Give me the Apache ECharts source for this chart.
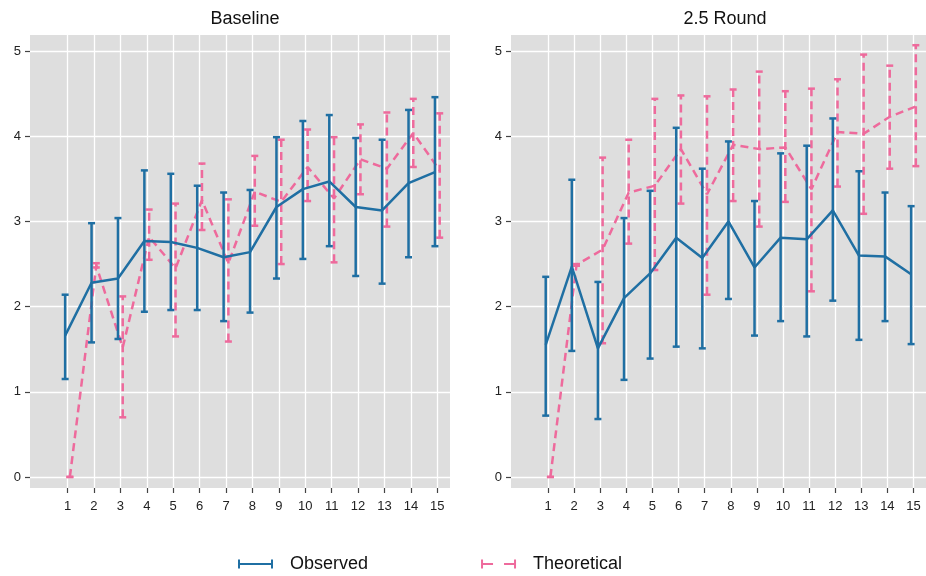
<!DOCTYPE html>
<html>
<head>
<meta charset="utf-8">
<script src="https://cdn.jsdelivr.net/npm/echarts@6/dist/echarts.min.js"></script>
<style>html,body{margin:0;padding:0;background:#fff}#c{width:926px;height:576px}</style>
</head>
<body>
<div id="c"></div>
<script>
// ---- data ----
const categories = [1,2,3,4,5,6,7,8,9,10,11,12,13,14,15];
const yTicks = [0,1,2,3,4,5];
const panelTitles = ['Baseline', '2.5 Round'];
const seriesNames = ['Observed', 'Theoretical'];

const baseObsMean = [1.66,2.28,2.33,2.77,2.76,2.69,2.58,2.64,3.17,3.38,3.47,3.17,3.13,3.45,3.58];
const baseObsLow  = [1.15,1.58,1.62,1.94,1.96,1.96,1.83,1.93,2.33,2.56,2.71,2.36,2.27,2.58,2.71];
const baseObsHigh = [2.14,2.98,3.04,3.60,3.56,3.42,3.34,3.37,3.99,4.18,4.25,3.98,3.96,4.31,4.46];

const baseTheoMean = [0,2.48,1.52,2.82,2.45,3.25,2.51,3.35,3.23,3.64,3.27,3.73,3.62,4.04,3.60];
const baseTheoLow  = [0,2.46,0.70,2.55,1.65,2.90,1.59,2.95,2.50,3.24,2.52,3.32,2.94,3.64,2.81];
const baseTheoHigh = [0,2.51,2.12,3.14,3.21,3.68,3.26,3.77,3.96,4.08,3.99,4.14,4.28,4.44,4.27];

const roundObsMean = [1.55,2.47,1.51,2.10,2.39,2.81,2.57,3.00,2.46,2.81,2.79,3.13,2.60,2.59,2.38];
const roundObsLow  = [0.72,1.48,0.68,1.14,1.39,1.53,1.51,2.09,1.66,1.83,1.65,2.07,1.61,1.83,1.56];
const roundObsHigh = [2.35,3.49,2.29,3.04,3.36,4.10,3.62,3.94,3.24,3.80,3.89,4.21,3.59,3.34,3.18];

const roundTheoMean = [0,2.49,2.67,3.34,3.42,3.85,3.32,3.90,3.85,3.87,3.38,4.05,4.03,4.23,4.35];
const roundTheoLow  = [0,2.48,1.57,2.74,2.43,3.21,2.14,3.24,2.94,3.23,2.18,3.41,3.09,3.62,3.65];
const roundTheoHigh = [0,2.50,3.75,3.96,4.44,4.48,4.47,4.55,4.76,4.53,4.56,4.67,4.96,4.83,5.07];

// ---- styling ----
const BLUE = '#1f6fa3';
const PINK = '#ee6a9c';
const DASH = [8, 5];
const DODGE = 0.09;
const FONT = 'Liberation Sans, Arial, sans-serif';

function errRender(color, dashed) {
  return function (params, api) {
    const x = api.value(0), lo = api.value(1), hi = api.value(2);
    const pLo = api.coord([x, lo]), pHi = api.coord([x, hi]);
    const hw = 3.5;
    const base = { stroke: color, lineWidth: 2.5, fill: null };
    return {
      type: 'group',
      children: [
        { type: 'line', shape: { x1: pLo[0], y1: pLo[1], x2: pHi[0], y2: pHi[1] },
          style: Object.assign({}, base, dashed ? { lineDash: DASH } : {}) },
        { type: 'line', shape: { x1: pHi[0] - hw, y1: pHi[1], x2: pHi[0] + hw, y2: pHi[1] }, style: base },
        { type: 'line', shape: { x1: pLo[0] - hw, y1: pLo[1], x2: pLo[0] + hw, y2: pLo[1] }, style: base }
      ]
    };
  };
}

function panelSeries(idx, obsM, obsL, obsH, theoM, theoL, theoH) {
  return [
    { name: seriesNames[1], type: 'custom', xAxisIndex: idx, yAxisIndex: idx,
      renderItem: errRender(PINK, true), encode: { x: 0, y: [1, 2] },
      data: categories.map((c, i) => [c + DODGE, theoL[i], theoH[i]]), z: 2 },
    { name: seriesNames[1], type: 'line', xAxisIndex: idx, yAxisIndex: idx, symbol: 'none',
      lineStyle: { color: PINK, width: 2.5, type: DASH }, itemStyle: { color: PINK },
      data: categories.map((c, i) => [c + DODGE, theoM[i]]), z: 2 },
    { name: seriesNames[0], type: 'custom', xAxisIndex: idx, yAxisIndex: idx,
      renderItem: errRender(BLUE, false), encode: { x: 0, y: [1, 2] },
      data: categories.map((c, i) => [c - DODGE, obsL[i], obsH[i]]), z: 3 },
    { name: seriesNames[0], type: 'line', xAxisIndex: idx, yAxisIndex: idx, symbol: 'none',
      lineStyle: { color: BLUE, width: 2.5 }, itemStyle: { color: BLUE },
      data: categories.map((c, i) => [c - DODGE, obsM[i]]), z: 3 }
  ];
}

function xAxisDef(idx) {
  return {
    type: 'value', gridIndex: idx, min: -0.42, max: 15.48, position: 'bottom',
    axisLine: { show: false, onZero: false },
    axisTick: { show: true, length: 5, customValues: categories, lineStyle: { color: '#444', width: 1.2 } },
    axisLabel: { customValues: categories, margin: 12, color: '#222', fontSize: 13, fontFamily: FONT },
    splitLine: { show: true, lineStyle: { color: '#ffffff', width: 1.3 } }
  };
}
function yAxisDef(idx) {
  return {
    type: 'value', gridIndex: idx, min: -0.13, max: 5.19, position: 'left',
    axisLine: { show: false, onZero: false },
    axisTick: { show: true, length: 5, customValues: yTicks, lineStyle: { color: '#444', width: 1.2 } },
    axisLabel: { customValues: yTicks, margin: 9, color: '#222', fontSize: 13, fontFamily: FONT },
    splitLine: { show: true, lineStyle: { color: '#ffffff', width: 1.3 } }
  };
}

const obsIcon = 'path://M0,0h2v9h-2z M0,3.5h35v2h-35z M33,0h2v9h-2z';
const theoIcon = 'path://M0,0h2v9h-2z M0,3.5h12v2h-12z M23,3.5h12v2h-12z M33,0h2v9h-2z';

const option = {
  animation: false,
  backgroundColor: '#ffffff',
  title: [
    { text: panelTitles[0], left: 240, top: 5, textAlign: 'center',
      textStyle: { fontSize: 18, fontWeight: 'normal', color: '#111', fontFamily: FONT } },
    { text: panelTitles[1], left: 720, top: 5, textAlign: 'center',
      textStyle: { fontSize: 18, fontWeight: 'normal', color: '#111', fontFamily: FONT } }
  ],
  legend: {
    left: 233, top: 550, itemWidth: 35, itemHeight: 9, itemGap: 113,
    data: [ { name: seriesNames[0], icon: obsIcon, itemStyle: { color: BLUE } },
            { name: seriesNames[1], icon: theoIcon, itemStyle: { color: PINK } } ],
    textStyle: { fontSize: 18, color: '#111', fontFamily: FONT, padding: [0, 0, 0, 12] }
  },
  grid: [
    { left: 30, top: 35, width: 420, height: 453, show: true, backgroundColor: '#dedede', borderWidth: 0 },
    { left: 511, top: 35, width: 419, height: 453, show: true, backgroundColor: '#dedede', borderWidth: 0 }
  ],
  xAxis: [xAxisDef(0), xAxisDef(1)],
  yAxis: [yAxisDef(0), yAxisDef(1)],
  series: [].concat(
    panelSeries(0, baseObsMean, baseObsLow, baseObsHigh, baseTheoMean, baseTheoLow, baseTheoHigh),
    panelSeries(1, roundObsMean, roundObsLow, roundObsHigh, roundTheoMean, roundTheoLow, roundTheoHigh)
  )
};

const chart = echarts.init(document.getElementById('c'), null, { renderer: 'canvas' });
chart.setOption(option);
</script>
</body>
</html>
